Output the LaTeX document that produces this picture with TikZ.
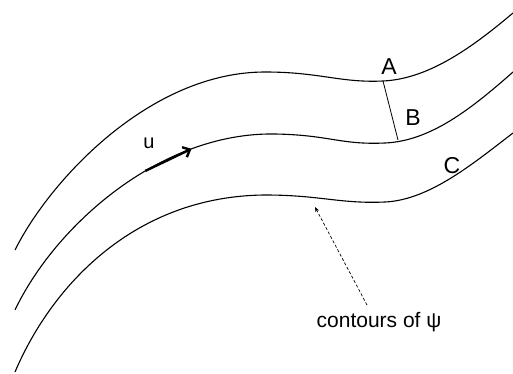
\documentclass[tikz,border=0pt]{standalone}
\usepackage{fontspec}
\setmainfont{Liberation Sans}
\usetikzlibrary{arrows.meta}
\begin{document}
\begin{tikzpicture}[x=1pt,y=-1pt,
  stream/.style={line width=1.1pt},
  lbl/.style={inner sep=0pt, font=\fontsize{23}{27}\selectfont},
  ulbl/.style={inner sep=0pt, font=\fontsize{20}{24}\selectfont},
  note/.style={inner sep=0pt, font=\fontsize{21}{25}\selectfont},
  flow/.style={line width=2.4pt, -{Straight Barb[length=6pt,width=11pt,line width=2.4pt]}},
  pointer/.style={line width=0.7pt, dash pattern=on 3pt off 2pt, -{Stealth[length=5pt,width=4pt]}}]
\useasboundingbox (0,0) rectangle (513,374);
% streamlines (contours of psi)
\draw[stream] (15,250) .. controls (50,180) and (150,72) .. (265,72)
  .. controls (320,72) and (340,83) .. (383,81)
  .. controls (430,79) and (475,45) .. (513,13);
\draw[stream] (15,310) .. controls (55,226) and (160,132) .. (275,134)
  coordinate[pos=0.6] (u0) coordinate[pos=0.75] (u1)
  .. controls (330,135) and (340,145) .. (385,143)
  .. controls (430,141) and (470,110) .. (513,72);
\draw[stream] (15,372) .. controls (52,285) and (135,196) .. (265,195)
  .. controls (320,195) and (340,204) .. (385,202)
  .. controls (430,200) and (475,162) .. (513,133);
% cross section A-B
\coordinate (a1) at (383,81);
\coordinate (b1) at (398,140);
\draw[line width=0.8pt] (a1) -- (b1);
\node[lbl] (A) at (389,67) {A};
\node[lbl] (B) at (413,118) {B};
\node[lbl] (C) at (452,166) {C};
% velocity arrow
\draw[flow] (u0) -- (u1);
\node[ulbl] (u) at (149,143) {u};
% label and pointer
\node[note] (label) at (379,322) {contours of ψ};
\coordinate (p0) at (367,305);
\coordinate (p1) at (315,207);
\draw[pointer] (p0) -- (p1);
\end{tikzpicture}
\end{document}
